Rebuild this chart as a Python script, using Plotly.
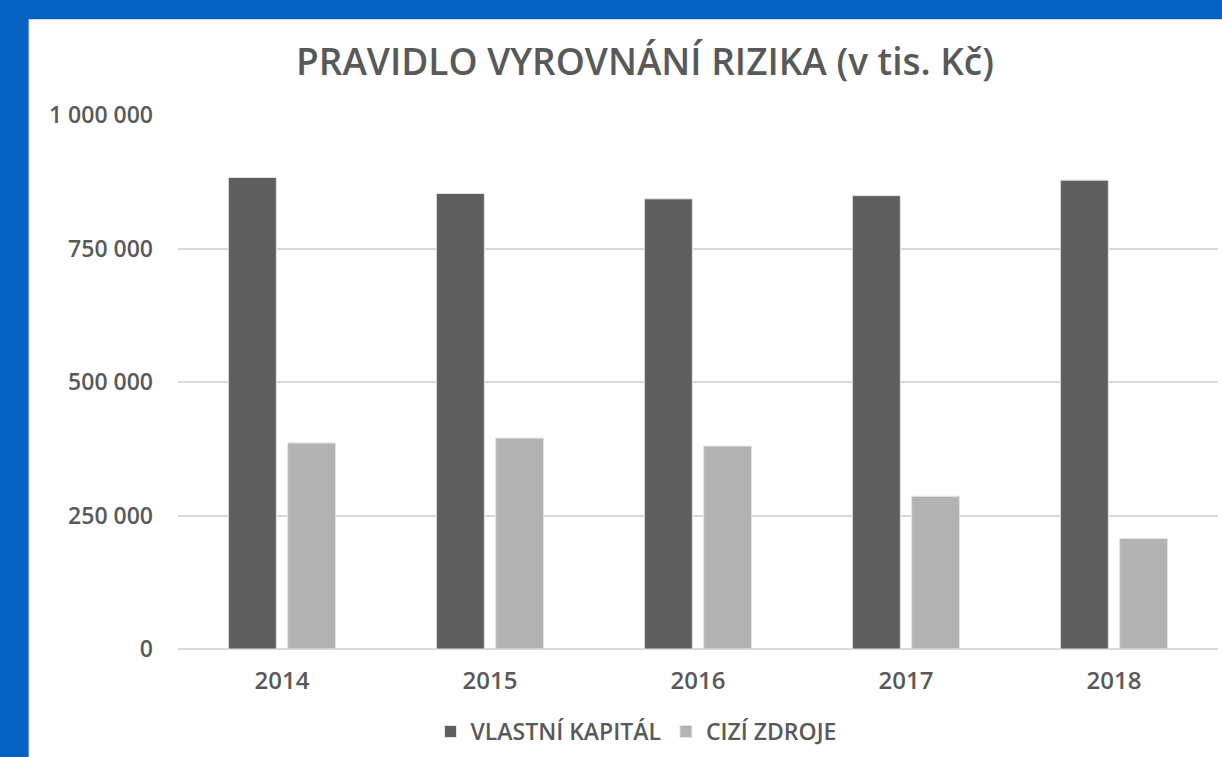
import plotly.graph_objects as go

years = ["2014", "2015", "2016", "2017", "2018"]
vlastni_kapital = [883000, 853000, 843000, 849000, 878000]
cizi_zdroje = [386000, 395000, 380000, 286000, 207000]
tick_vals = [0, 250000, 500000, 750000, 1000000]
tick_text = ["0", "250 000", "500 000", "750 000", "1 000 000"]

TXT = "#595959"
FONT = "Open Sans"

fig = go.Figure()
fig.add_trace(go.Bar(name="VLASTNÍ KAPITÁL", x=years, y=vlastni_kapital,
                     marker=dict(color="#5f5f5f", line=dict(color="#e6e6e6", width=1))))
fig.add_trace(go.Bar(name="CIZÍ ZDROJE", x=years, y=cizi_zdroje,
                     marker=dict(color="#b3b3b3", line=dict(color="#e6e6e6", width=1))))

W, H = 1222, 757
L, R, T, B = 178, 4, 115, 105
pw = W - L - R
ph = H - T - B

fig.add_shape(type="rect", xref="paper", yref="paper",
              x0=(29 - L) / pw, x1=(W + 5 - L) / pw,
              y0=(H - B - (H + 5)) / ph, y1=(H - B - 19) / ph,
              fillcolor="white", line=dict(color="#d9d9d9", width=1), layer="below")

fig.update_layout(
    width=W, height=H,
    margin=dict(l=L, r=R, t=T, b=B),
    paper_bgcolor="#0563C1",
    plot_bgcolor="white",
    barmode="group",
    bargap=0.43,
    bargroupgap=0.19,
    title=dict(text="PRAVIDLO VYROVNÁNÍ RIZIKA (v tis. Kč)",
               font=dict(family=FONT, size=37, color=TXT, weight=600),
               xref="paper", x=(645 - L) / pw, xanchor="center",
               yref="container", y=1 - 62 / H, yanchor="middle"),
    font=dict(family=FONT, color=TXT),
    showlegend=True,
    legend=dict(orientation="h", x=(636 - L) / pw, xanchor="center",
                y=(H - B - 735) / ph, yanchor="middle",
                font=dict(family=FONT, size=23, color=TXT, weight=600),
                itemwidth=30, traceorder="normal", bgcolor="rgba(0,0,0,0)"),
    xaxis=dict(showgrid=False, showline=False, zeroline=False,
               tickfont=dict(family=FONT, size=24, color=TXT, weight=600),
               ticklabelstandoff=15),
    yaxis=dict(range=[0, 1000000], tickvals=tick_vals, ticktext=tick_text,
               showgrid=True, gridcolor="#d9d9d9", gridwidth=1.5,
               zeroline=True, zerolinecolor="#d9d9d9", zerolinewidth=2,
               showline=False,
               tickfont=dict(family=FONT, size=23, color=TXT, weight=600),
               ticklabelstandoff=24),
)

fig.write_html("out.html", config={"displayModeBar": False},
               post_script="document.body.style.margin='0';document.body.style.overflow='hidden';")
